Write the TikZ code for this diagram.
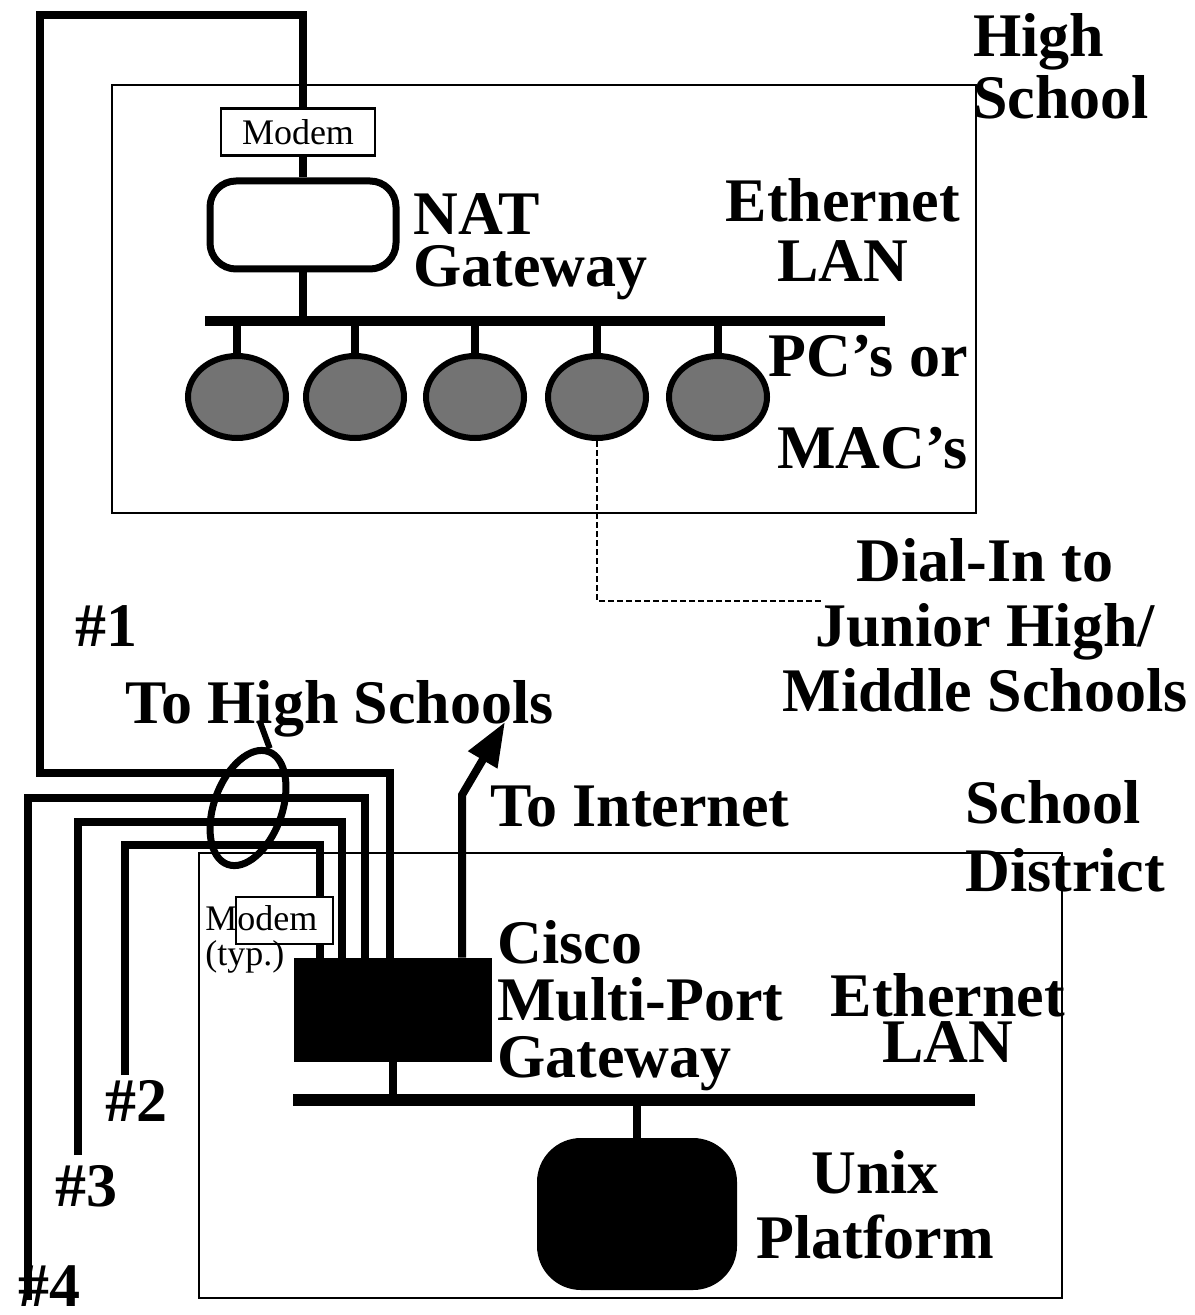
\documentclass[tikz,border=0pt]{standalone}
\usepackage{fontspec}
\setmainfont{Liberation Serif}
\usetikzlibrary{arrows.meta, positioning, shapes.geometric}

\begin{document}
\begin{tikzpicture}[x=0.5pt, y=-0.5pt,
  lbl/.style={font=\bfseries\fontsize{31}{30}\selectfont, inner sep=0pt},
  small/.style={font=\fontsize{18}{17.5}\selectfont, inner sep=0pt},
  site/.style={draw, line width=1.2pt},
  wire/.style={line width=4pt},
  bus/.style={fill=black, inner sep=0pt, minimum height=5pt},
  modembox/.style={draw, line width=1.2pt, fill=white, inner sep=0pt},
  pc/.style={draw, ellipse, line width=3pt, fill=black!55, minimum width=49pt, minimum height=41pt, inner sep=0pt},
  dialin/.style={line width=0.9pt, dash pattern=on 3pt off 1.5pt}]
  \useasboundingbox (0,0) rectangle (1194,1315);

  % high school site
  \draw[site] (112,85) rectangle (976,513);
  \node[modembox, small, minimum width=77pt, minimum height=23.5pt] (hmodem) at (298,132) {Modem};
  \node[draw, rounded corners=13pt, line width=3.5pt, minimum width=93pt, minimum height=44pt] (nat) at (303,225) {};
  \node[bus, minimum width=340pt] (hbar) at (545,321) {};
  \draw[wire] (nat.north |- hmodem.south) -- (nat.north);
  \draw[wire] (nat.south) -- (nat.south |- hbar.center);
  \foreach \i/\x in {1/237,2/355,3/475,4/597,5/718} {
    \node[pc] (pc\i) at (\x,397) {};
    \draw[wire] (pc\i.north) -- (pc\i.north |- hbar.center);
  }
  \node[lbl, align=left, anchor=north west] (hslbl) at (973,13) {High\\[1pt]School};
  \node[lbl, align=left, anchor=north west] (natlbl) at (413,193) {NAT\\[-4pt]Gateway};
  \node[lbl, align=center, anchor=north] (hlan) at (843,178) {Ethernet\\LAN};
  \node[lbl, align=right, anchor=north east] (pclbl) at (968,335) {PC’s or\\[16pt]MAC’s};

  % dial-in
  \coordinate (dialend) at (822,601);
  \draw[dialin] (pc4.south) |- (dialend);
  \node[lbl, align=center, anchor=north] (dial) at (985,538) {Dial-In to\\[2.5pt]Junior High/\\[2.5pt]Middle Schools};

  % school district site
  \draw[site] (199,853) rectangle (1062,1298);
  \node[fill=black, inner sep=0pt, minimum width=99pt, minimum height=52pt] (cisco) at (393,1010) {};
  \node[modembox, minimum width=48.5pt, minimum height=23.5pt] (dmodem) at (284.5,920.5) {};
  \node[small, align=left, anchor=north west] (typ) at (205,905) {Modem\\(typ.)};
  \node[bus, minimum width=341pt, minimum height=6pt] (dbar) at (634,1100) {};
  \node[fill=black, rounded corners=22pt, inner sep=0pt, minimum width=100pt, minimum height=76pt] (unix) at (637,1214) {};
  \draw[wire] (cisco.south) -- (cisco.south |- dbar.center);
  \draw[wire] (unix.north) -- (unix.north |- dbar.center);

  % dial-up lines
  \coordinate (k1) at (390,773);
  \coordinate (k4) at (365,798);
  \coordinate (k3) at (342,822);
  \coordinate (k2) at (320,845);
  \coordinate (e4) at (28,1300);
  \coordinate (e3) at (78,1155);
  \coordinate (e2) at (125,1075);
  \draw[wire] (nat.north |- hmodem.north) |- (40,15) |- (k1) -- (k1 |- cisco.north);
  \draw[wire] (e4) |- (k4) -- (k4 |- cisco.north);
  \draw[wire] (e3) |- (k3) -- (k3 |- cisco.north);
  \draw[wire] (e2) |- (k2) -- (k2 |- dmodem.north);
  \draw[wire] (k2 |- dmodem.south) -- (k2 |- cisco.north);
  \coordinate (inet) at (462,795);
  \coordinate (itip) at (505,722);
  \draw[wire, -{Triangle[length=22pt, width=16pt]}] (cisco.north -| inet) -- (inet) -- (itip);
  \node[draw, ellipse, line width=3.5pt, rotate=-20, minimum width=34pt, minimum height=60pt, inner sep=0pt] (loop) at (248,808) {};
  \coordinate (tick) at (260,722);
  \draw[line width=3pt] (loop.north) -- (tick);

  \node[lbl, anchor=north west] (n1) at (75,605) {\#1};
  \node[lbl, anchor=north west] (tohs) at (125,680) {To High Schools};
  \node[lbl, anchor=north west] (toinet) at (490,785) {To Internet};
  \node[lbl, align=left, anchor=north west] (sdlbl) at (965,780) {School\\[4pt]District};
  \node[lbl, align=left, anchor=north west] (cislbl) at (497,920) {Cisco\\[-1.5pt]Multi-Port\\[-1.5pt]Gateway};
  \node[lbl, align=center, anchor=north] (dlan) at (948,973) {Ethernet\\[-7pt]LAN};
  \node[lbl, align=center, anchor=north] (unixlbl) at (875,1150) {Unix\\[2.5pt]Platform};
  \node[lbl, anchor=north west] (n2) at (105,1080) {\#2};
  \node[lbl, anchor=north west] (n3) at (55,1165) {\#3};
  \node[lbl, anchor=north west] (n4) at (18,1265) {\#4};
\end{tikzpicture}
\end{document}
